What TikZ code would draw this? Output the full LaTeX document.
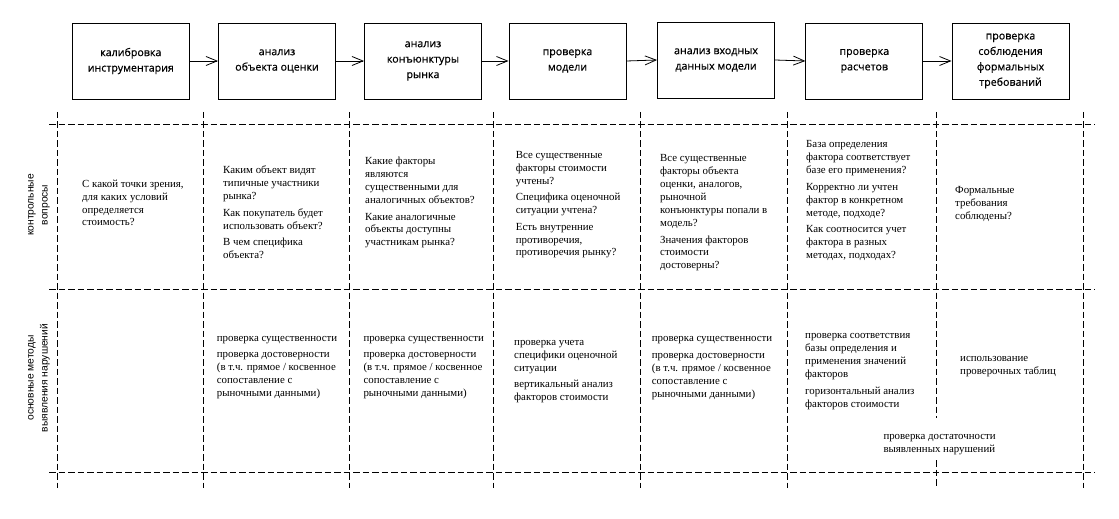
\documentclass[tikz,border=0pt]{standalone}
\usepackage{fontspec}
\setmainfont{Liberation Serif}
\newfontfamily\boxfont[FakeBold=0.6]{Open Sans}
\newfontfamily\lblfont{Liberation Sans}
\usetikzlibrary{arrows.meta}
\begin{document}
\begin{tikzpicture}[x=1bp,y=-1bp,
  stage/.style={draw,line width=0.9bp,minimum width=117bp,minimum height=76bp,align=center,
    font=\boxfont\fontsize{10.7}{15.5}\selectfont,inner sep=0pt},
  cell/.style={anchor=north west,align=left,inner sep=0pt,font=\fontsize{10.9}{13}\selectfont},
  grid/.style={dash pattern=on 6.5bp off 3bp,line width=0.8bp},
  flow/.style={-{Straight Barb[length=11bp,width=9bp]},line width=0.8bp},
  rowlbl/.style={rotate=90,align=center,font=\lblfont\fontsize{10.3}{14}\selectfont,inner sep=0pt}]
\useasboundingbox (0,0) rectangle (1119,519);

% stages
\node[stage] (s1) at (130.8,61) {калибровка\\инструментария};
\node[stage] (s2) at (277,61) {анализ\\объекта оценки};
\node[stage] (s3) at (423,61) {анализ\\конъюнктуры\\рынка};
\node[stage] (s4) at (567.5,61) {проверка\\модели};
\node[stage] (s5) at (716,60) {анализ входных\\данных модели};
\node[stage] (s6) at (864.3,61) {проверка\\расчетов};
\node[stage] (s7) at (1010.5,61) {проверка\\соблюдения\\формальных\\требований};
\draw[flow] (s1.east) -- (s2.west);
\draw[flow] (s2.east) -- (s3.west);
\draw[flow] (s3.east) -- (s4.west);
\draw[flow] (s4.east) -- (s5.west);
\draw[flow] (s5.east) -- (s6.west);
\draw[flow] (s6.east) -- (s7.west);

% grid
\foreach \x in {57,203,349,493,640,787,1083}
  \draw[grid] (\x,112) -- (\x,488);
\draw[grid] (936,112) -- (936,418);
\draw[grid] (936,460) -- (936,488);
\foreach \y in {124,289,472}
  \draw[grid] (49,\y) -- (1095,\y);

% row labels
\node[rowlbl] (q) at (39,205) {контрольные\\вопросы};
\node[rowlbl] (m) at (39,378) {основные методы\\выявления нарушений};

% row 1
\node[cell] (a1) at (82,179.5) {С какой точки зрения,\\для каких условий\\определяется\\стоимость?};
\node[cell] (a2) at (223,166) {Каким объект видят\\типичные участники\\рынка?\\[3.5bp]Как покупатель будет\\использовать объект?\\[3.5bp]В чем специфика\\объекта?};
\node[cell] (a3) at (365,157) {Какие факторы\\являются\\существенными для\\аналогичных объектов?\\[3.5bp]Какие аналогичные\\объекты доступны\\участникам рынка?};
\node[cell] (a4) at (515.7,151) {Все существенные\\факторы стоимости\\учтены?\\[3.5bp]Специфика оценочной\\ситуации учтена?\\[3.5bp]Есть внутренние\\противоречия,\\противоречия рынку?};
\node[cell] (a5) at (660,154.5) {Все существенные\\факторы объекта\\оценки, аналогов,\\рыночной\\конъюнктуры попали в\\модель?\\[3.5bp]Значения факторов\\стоимости\\достоверны?};
\node[cell] (a6) at (806,140.5) {База определения\\фактора соответствует\\базе его применения?\\[3.5bp]Корректно ли учтен\\фактор в конкретном\\методе, подходе?\\[3.5bp]Как соотносится учет\\фактора в разных\\методах, подходах?};
\node[cell] (a7) at (955,186) {Формальные\\требования\\соблюдены?};

% row 2
\node[cell] (b2) at (216.7,336) {проверка существенности\\[3.5bp]проверка достоверности\\(в т.ч. прямое / косвенное\\сопоставление с\\рыночными данными)};
\node[cell] (b3) at (363.3,336) {проверка существенности\\[3.5bp]проверка достоверности\\(в т.ч. прямое / косвенное\\сопоставление с\\рыночными данными)};
\node[cell] (b4) at (514,340) {проверка учета\\специфики оценочной\\ситуации\\[3.5bp]вертикальный анализ\\факторов стоимости};
\node[cell] (b5) at (651.7,336.5) {проверка существенности\\[3.5bp]проверка достоверности\\(в т.ч. прямое / косвенное\\сопоставление с\\рыночными данными)};
\node[cell] (b6) at (805,333.5) {проверка соответствия\\базы определения и\\применения значений\\факторов\\[3.5bp]горизонтальный анализ\\факторов стоимости};
\node[cell] (b7) at (960,356.5) {использование\\проверочных таблиц};
\node[cell] (b8) at (883.3,434.5) {проверка достаточности\\выявленных нарушений};
\end{tikzpicture}
\end{document}
